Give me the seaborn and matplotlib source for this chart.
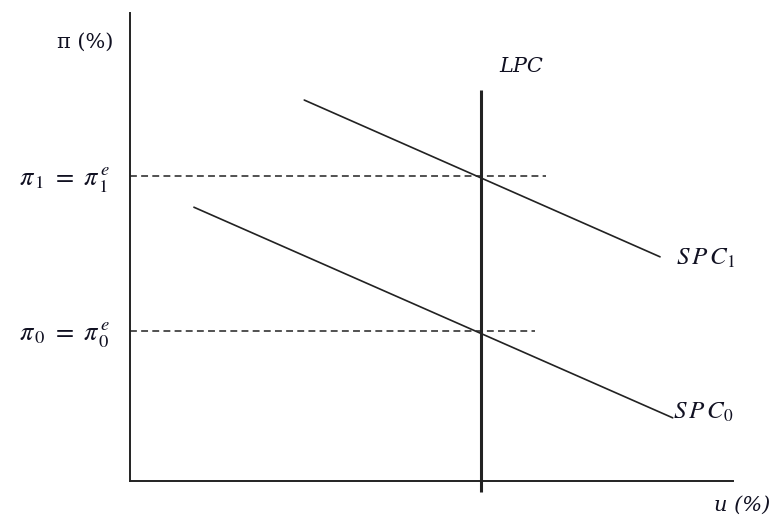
import matplotlib
matplotlib.use("Agg")
import matplotlib.pyplot as plt
import seaborn as sns
import pandas as pd

sns.set_theme(style="white")
plt.rcParams['font.family'] = ['DejaVu Serif', 'DejaVu Sans']
plt.rcParams['mathtext.fontset'] = 'stix'

# Data (abstract units, axis 0..10)
spc1_x = [2.89, 8.79]
spc1_y = [8.14, 4.79]
spc0_x = [1.06, 9.00]
spc0_y = [5.85, 1.35]
lpc_x = [5.82, 5.82]
lpc_y = [-0.24, 8.35]
pi_levels = [6.52, 3.20]
pi_dash_end = [6.90, 6.72]
pi_labels = [r"$\pi_{\,1}\ =\ \pi_{\,1}^{\,e}$", r"$\pi_{\,0}\ =\ \pi_{\,0}^{\,e}$"]
curve_labels = [r"$S\,P\,C_{1}$", r"$S\,P\,C_{0}$"]

W, H = 775, 521
fig = plt.figure(figsize=(W / 100, H / 100), dpi=100)
ax = fig.add_axes([130 / W, 1 - 481 / H, (733 - 130) / W, (481 - 13) / H])
ax.set_xlim(0, 10)
ax.set_ylim(0, 10)

df = pd.concat([
    pd.DataFrame({"u": spc1_x, "pi": spc1_y, "curve": "SPC1"}),
    pd.DataFrame({"u": spc0_x, "pi": spc0_y, "curve": "SPC0"}),
])
sns.lineplot(data=df, x="u", y="pi", units="curve", estimator=None,
             color="#222222", lw=1.2, ax=ax, sort=False, legend=False)

ax.plot(lpc_x, lpc_y, color="#222222", lw=2.2, clip_on=False, solid_capstyle="butt")

for lvl, end in zip(pi_levels, pi_dash_end):
    ax.plot([0, end], [lvl, lvl], color="#222222", lw=1.1, ls=(0, (4.5, 2.8)))

for side in ["top", "right"]:
    ax.spines[side].set_visible(False)
for side in ["left", "bottom"]:
    ax.spines[side].set_color("#222222")
    ax.spines[side].set_linewidth(1.4)

ax.set_xticks([])
ax.set_yticks(pi_levels)
ax.set_yticklabels(pi_labels, fontsize=19, color="#111122")
ax.tick_params(axis="y", direction="in", length=5, width=1, color="#222222", pad=14)
ax.set_xlabel("")
ax.set_ylabel("")

fig.text(85 / W, 1 - 42 / H, "π (%)", ha="center", va="center", fontsize=15, color="#111122")
fig.text(521 / W, 1 - 66 / H, "LPC", ha="center", va="center", fontsize=15,
         style="italic", color="#111122")
fig.text(676 / W, 1 - 258 / H, curve_labels[0], ha="left", va="center", fontsize=18, color="#111122")
fig.text(673 / W, 1 - 412 / H, curve_labels[1], ha="left", va="center", fontsize=18, color="#111122")
fig.text(770 / W, 1 - 505 / H, "u (%)", ha="right", va="center", fontsize=15,
         style="italic", color="#111122")

fig.savefig("out.png", dpi=100)
